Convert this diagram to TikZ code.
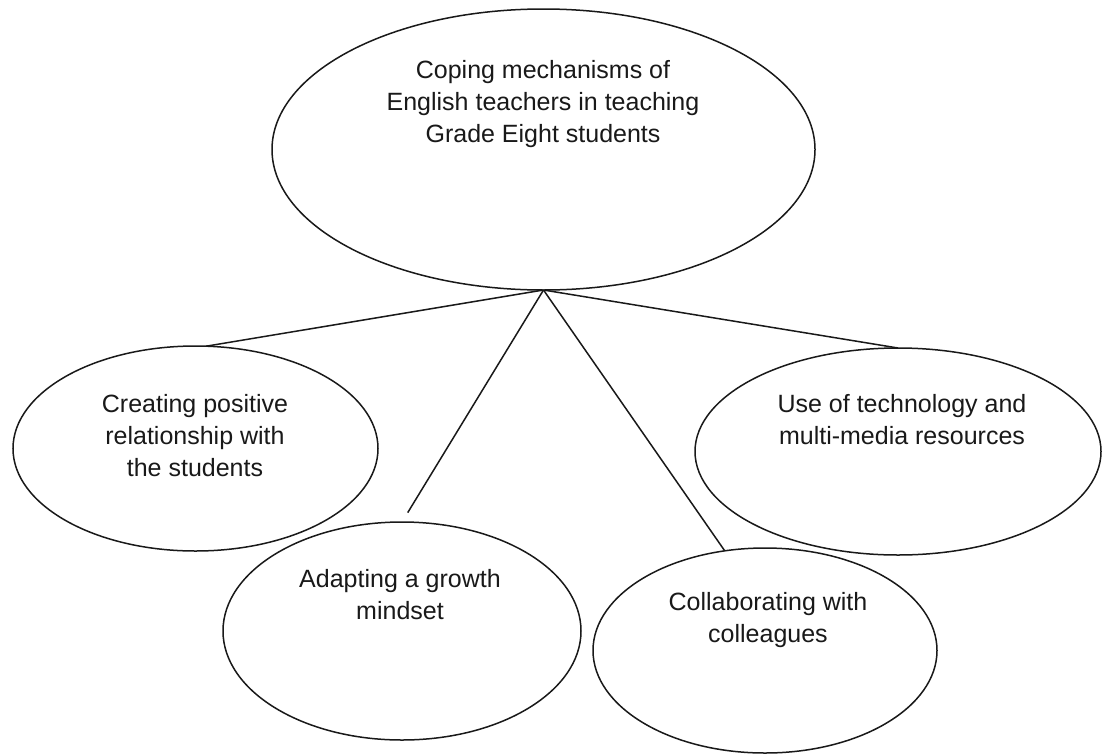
\documentclass[tikz,border=0pt]{standalone}
\usepackage{fontspec}
\setmainfont{Liberation Sans}
\usetikzlibrary{shapes.geometric}
\begin{document}
\begin{tikzpicture}[x=1pt,y=-1pt,
  bubble/.style={draw=black!90, line width=1.5pt, ellipse, inner sep=0pt, outer sep=0pt},
  lbl/.style={align=center, font=\fontsize{25}{32}\selectfont, text=black!90, inner sep=0pt},
  link/.style={draw=black!90, line width=1.5pt}]
\useasboundingbox[fill=white] (0,0) rectangle (1102,755);
% ellipses
\node[bubble, minimum width=543pt, minimum height=281pt] (top) at (543.5,149.5) {};
\node[bubble, minimum width=365pt, minimum height=205pt] (left) at (195.5,448.5) {};
\node[bubble, minimum width=406pt, minimum height=207pt] (right) at (898,451.5) {};
\node[bubble, minimum width=358pt, minimum height=218pt] (mid) at (402,631) {};
\node[bubble, minimum width=344pt, minimum height=205pt] (br) at (765,650.5) {};
% labels
\node[lbl] (toptext) at (543,104) {Coping mechanisms of\\English teachers in teaching\\Grade Eight students};
\node[lbl] (lefttext) at (195,436) {Creating positive\\relationship with\\the students};
\node[lbl] (righttext) at (902,420) {Use of technology and\\multi-media resources};
\node[lbl] (midtext) at (400,595) {Adapting a growth\\mindset};
\node[lbl] (brtext) at (768,620) {Collaborating with\\colleagues};
% connectors
\draw[link] (top.south) -- (left.84);
\draw[link, shorten >=11pt] (top.south) -- (mid.north);
\draw[link] (top.south) -- (br.112);
\draw[link] (top.south) -- (right.north);
\end{tikzpicture}
\end{document}
